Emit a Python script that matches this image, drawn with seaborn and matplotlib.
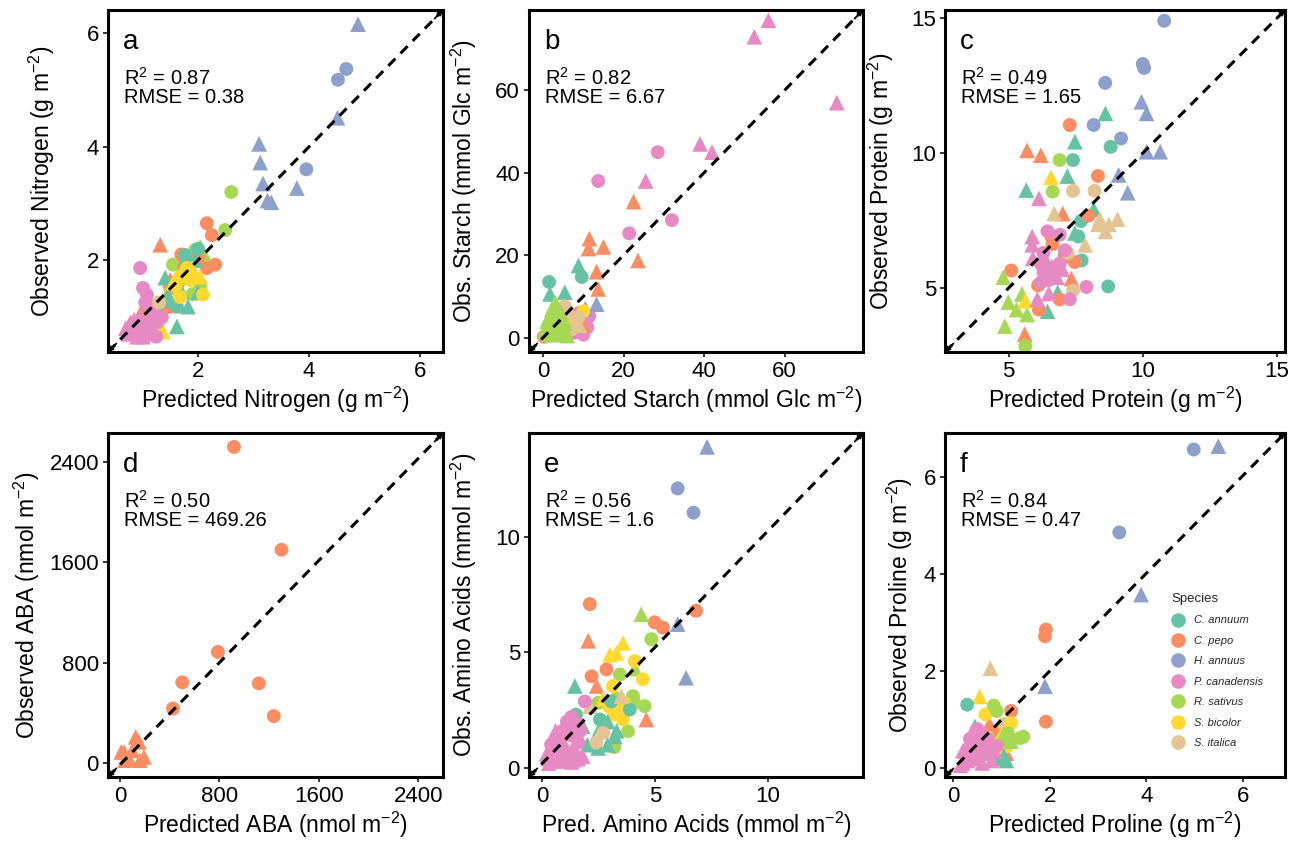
import matplotlib
matplotlib.use("Agg")
import matplotlib.pyplot as plt
from matplotlib.lines import Line2D
import seaborn as sns
import pandas as pd

# ---------------------------------------------------------------- species
species_order = ["C. annuum", "C. pepo", "H. annuus", "P. canadensis",
                 "R. sativus", "S. bicolor", "S. italica"]
species_code = {"A": "C. annuum", "P": "C. pepo", "H": "H. annuus",
                "C": "P. canadensis", "R": "R. sativus", "B": "S. bicolor",
                "I": "S. italica"}
palette = {"C. annuum": "#66C2A5", "C. pepo": "#FC8D62", "H. annuus": "#8DA0CB",
           "P. canadensis": "#E78AC3", "R. sativus": "#A6D854",
           "S. bicolor": "#FFD92F", "S. italica": "#E5C494"}

# ---------------------------------------------------------------- (a) nitrogen
a_pred = [4.88, 4.67, 4.52, 4.51, 3.10, 3.12, 3.17, 3.25, 3.32, 3.78, 3.95,
          2.60, 2.49, 1.55, 1.95, 2.04, 2.04, 2.10, 1.65, 1.90, 1.50, 1.70,
          2.16, 2.25, 2.31, 2.16, 1.32, 1.70, 1.75, 1.85, 1.50, 1.45, 1.20, 1.00, 1.30, 0.80, 2.00, 1.60, 1.15, 1.40,
          1.41, 1.59, 1.80, 1.95, 1.62, 1.82, 2.00, 1.62, 1.77, 1.70, 1.50, 2.00, 1.45, 1.25,
          1.68, 1.68, 2.09, 1.86, 1.80, 1.89, 2.04, 1.37, 1.60, 1.30, 1.55,
          0.96, 1.01, 1.08, 0.78, 1.08, 1.14, 1.35, 0.90, 1.01, 1.19, 1.26, 0.83, 1.01, 0.95, 1.10, 0.70, 1.20, 0.88,
          0.85, 1.15, 1.25, 0.95, 1.05, 0.75,
          1.30]
a_obs = [6.16, 5.37, 5.18, 4.51, 4.05, 3.72, 3.35, 3.05, 3.02, 3.27, 3.60,
         3.20, 2.53, 1.92, 2.18, 1.53, 2.23, 2.00, 1.60, 1.40, 1.50, 1.90,
         2.65, 2.44, 1.92, 1.86, 2.27, 2.10, 2.00, 1.90, 1.65, 1.40, 1.20, 1.13, 0.95, 0.72, 2.05, 1.20, 1.05, 1.15,
         1.69, 1.60, 2.06, 2.00, 0.83, 1.18, 1.43, 1.18, 2.09, 1.45, 1.30, 2.20, 1.35, 1.25,
         1.71, 1.35, 1.39, 1.65, 1.86, 1.86, 1.71, 0.74, 1.55, 0.80, 1.60,
         1.86, 1.51, 1.39, 0.90, 0.95, 1.18, 0.99, 0.65, 0.74, 0.78, 0.90, 0.81, 0.65, 1.00, 0.85, 0.80, 1.05, 0.72,
         0.95, 0.70, 0.65, 0.85, 1.25, 0.70,
         1.25]
a_species = "H" * 11 + "R" * 11 + "P" * 18 + "A" * 14 + "B" * 11 + "C" * 24 + "I" * 1
a_marker = ("^oo^^^^^^^o" "ooooo^ooooo" "oooo^o^^^^^^ooo^^o" "^^^^^^^oo^^o^^"
            "ooooo^^^o^^" "ooo^^oo^o^o^^^o^o^" "^^ooo^" "o")

# ---------------------------------------------------------------- (b) starch
b_pred = [56.0, 52.5, 73.0, 39.0, 42.0, 28.5, 25.5, 13.7, 32.0, 21.4, 11.5, 4.7, 5.4, 7.9, 10.0, 6.0, 3.5, 8.0, 9.0,
          6.5, 9.5, 7.5, 11.0,
          22.5, 11.5, 15.0, 11.3, 23.6, 13.3, 13.7, 0.2, 10.0,
          8.8, 9.6, 1.5, 1.7, 5.4, 2.0, 3.0, 4.0, 5.5,
          13.3, 10.5,
          10.0, 7.0,
          5.4, 8.8, 7.1, 4.5, 9.0, 6.2, 6.5,
          2.2, 3.4, 1.5, 5.2, 2.7, 1.0, 3.0, 4.0, 6.0, 0.5, 2.0, 4.5,
          1.5, 2.5, 0.8, 3.5, 5.5, 1.2, 4.2]
b_obs = [77.0, 73.0, 57.0, 47.0, 45.0, 45.0, 38.0, 38.0, 28.5, 25.3, 5.2, 5.2, 2.7, 1.2, 0.7, 4.0, 3.5, 2.5, 6.0,
         1.5, 1.5, 3.5, 2.5,
         33.0, 24.0, 22.0, 21.6, 18.7, 16.0, 11.8, 0.2, 3.0,
         17.5, 14.7, 13.5, 10.6, 11.0, 4.0, 1.0, 1.0, 0.5,
         8.1, 7.0,
         6.4, 4.0,
         7.6, 4.9, 2.0, 1.5, 3.0, 5.8, 2.8,
         6.9, 5.2, 2.7, 2.0, 0.7, 4.0, 8.5, 3.0, 0.5, 1.5, 0.5, 4.5,
         5.0, 3.5, 2.5, 1.5, 3.5, 0.8, 6.2]
b_species = "C" * 23 + "P" * 9 + "A" * 9 + "H" * 2 + "B" * 2 + "I" * 7 + "R" * 19
b_marker = ("^^^^^o^ooooooooo^oo" "oooo" "^^^^^^^o^" "^oo^^oooo" "^^" "oo" "oooo^o^"
            "^^^^^^^o^^o^" "^^^^^^^")

# ---------------------------------------------------------------- (c) protein
c_pred = [9.95, 10.14, 9.19, 8.17, 10.14, 10.65, 9.10, 9.44, 10.80, 10.00, 10.05, 8.60,
          8.61, 7.47, 8.80, 7.40, 7.19, 5.66, 8.17, 7.70, 7.47, 7.60, 7.09, 7.72, 8.71, 6.83, 6.45,
          7.28, 5.69, 6.20, 8.33, 7.02, 7.98, 6.64, 7.47, 5.10, 7.34, 6.90, 6.13, 5.60, 6.60, 6.10, 7.00,
          6.90, 6.64, 4.80, 5.50, 4.99, 5.69, 4.86, 5.62, 5.30,
          6.58, 5.62,
          7.40, 8.20, 6.70, 8.33, 8.74, 9.06, 8.61, 7.85, 7.40, 7.20, 8.40,
          6.13, 6.45, 6.90, 5.88, 5.88, 7.90, 7.28, 6.07, 6.30, 6.60, 6.80, 6.20, 6.50, 6.40, 7.00,
          6.20, 6.60, 6.90, 6.30, 5.90, 7.10, 6.50]
c_obs = [11.90, 11.47, 10.54, 11.04, 10.05, 10.05, 9.19, 8.53, 14.90, 13.30, 13.15, 12.60,
         11.47, 10.42, 10.23, 9.74, 9.15, 8.63, 7.92, 7.48, 7.04, 6.91, 6.20, 6.02, 5.06, 4.84, 4.14,
         11.04, 10.10, 9.92, 9.15, 7.76, 7.68, 6.63, 5.96, 5.65, 5.35, 4.58, 4.20, 3.29, 6.90, 5.10, 6.20,
         9.74, 8.57, 5.40, 4.78, 4.48, 4.02, 3.59, 2.85, 4.20,
         9.10, 4.53,
         8.60, 8.60, 7.76, 7.36, 7.36, 7.55, 7.10, 6.60, 4.90, 6.30, 7.55,
         8.32, 7.10, 6.97, 6.91, 6.60, 5.04, 4.58, 4.59, 5.60, 5.80, 5.40, 5.90, 5.30, 6.00, 5.70,
         5.20, 5.50, 5.90, 6.30, 6.10, 6.40, 4.80]
c_species = "H" * 12 + "A" * 15 + "P" * 16 + "R" * 9 + "B" * 2 + "I" * 11 + "C" * 22
c_marker = ("^^oo^^^^oooo" "^^oo^^^o^oooo^^" "o^^o^oooo^oo^oo^" "oo^^^^^o^" "^^"
            "oo^^^^^^oo^" "^oo^^oo^o^^oo^^" "o^oo^o^")

# ---------------------------------------------------------------- (d) ABA
d_pred = [917, 1300, 788, 501, 1118, 426, 1238, 32, 126, 153, 193, 72, 10, 99, 161, 40]
d_obs = [2519, 1700, 886, 644, 636, 436, 375, 90, 210, 170, 50, 37, 90, 104, 24, 24]
d_species = "P" * 16
d_marker = "ooooooo" "^^^^^^^^^"

# ---------------------------------------------------------------- (e) amino acids
e_pred = [6.00, 6.70, 7.30, 6.00, 6.37,
          2.11, 4.98, 5.35, 6.81, 2.04, 2.85, 2.19, 2.41, 4.61, 1.20,
          4.39, 4.83, 3.44, 4.54, 4.02, 2.48, 3.80, 4.10, 4.20, 3.30, 3.20,
          3.00, 3.58, 3.29, 4.10, 4.46, 3.14, 3.36, 3.58, 2.70, 3.20, 3.00, 3.60,
          1.45, 3.07, 3.88, 2.56, 3.22, 2.48, 1.80, 2.30, 1.50, 2.90, 3.30, 2.00, 2.60, 1.30, 2.90,
          3.51, 2.11, 2.70, 1.50, 2.40,
          1.89, 0.30, 0.50, 0.80, 1.00, 1.20, 0.60, 1.50, 1.30, 0.90, 1.60, 1.10, 0.70, 1.40, 1.80, 0.40,
          1.00, 1.70, 1.30,
          0.50, 0.90, 1.30, 0.20, 1.60, 0.60, 1.10, 0.80, 1.40, 0.30, 1.20, 1.60]
e_obs = [12.10, 11.05, 13.90, 6.22, 3.90,
         7.09, 6.30, 6.07, 6.80, 5.50, 4.26, 3.96, 3.54, 2.09, 1.50,
         6.65, 5.57, 4.04, 2.67, 3.10, 2.81, 1.58, 4.30, 2.90, 3.00, 0.90,
         4.90, 5.41, 4.98, 4.62, 3.83, 3.54, 2.44, 2.09, 3.00, 2.30, 2.60, 2.80,
         3.54, 2.88, 2.52, 2.09, 1.36, 0.86, 1.80, 1.20, 2.30, 2.00, 1.60, 1.00, 1.80, 2.00, 1.00,
         3.10, 2.67, 1.51, 1.50, 1.10,
         2.87, 0.40, 0.80, 0.50, 1.00, 0.60, 1.20, 0.70, 1.40, 1.60, 1.10, 2.00, 0.30, 0.35, 0.50, 1.00,
         0.30, 1.60, 2.20,
         0.30, 0.80, 0.25, 0.60, 0.40, 1.60, 0.50, 1.20, 0.90, 0.20, 1.80, 1.90]
e_species = "H" * 5 + "P" * 10 + "R" * 11 + "B" * 12 + "A" * 15 + "I" * 5 + "C" * 31
e_marker = ("oo^^^" "oooo^oo^^^" "^oooooo^^oo" "^^^ooooo^ooo" "^ooo^^^^o^^^^^^" "^^ooo"
            "o^^^^^^^oooo^^^o^oo" "^^^^^^^^^^oo")

# ---------------------------------------------------------------- (f) proline
f_pred = [5.49, 4.98, 3.44, 3.89, 1.90,
          1.92, 1.90, 1.92, 1.20, 0.90, 0.60, 1.10, 0.75,
          0.77, 1.05,
          0.55, 0.67, 1.20, 1.11, 1.00, 1.05, 0.95,
          0.29, 0.90, 0.40, 1.10, 1.05, 0.45,
          0.84, 0.90, 1.45, 1.38, 1.13, 1.20, 0.80, 1.00,
          0.20, 0.35, 0.50, 0.30, 0.60, 0.45, 0.70, 0.80, 0.25, 0.55, 0.40, 0.65, 0.90, 0.15,
          0.30, 0.55, 0.75, 0.40, 0.85, 0.20, 0.60, 0.50, 0.35, 0.70]
f_obs = [6.63, 6.56, 4.85, 3.57, 1.68,
         2.85, 2.71, 0.95, 1.17, 0.75, 0.50, 0.30, 0.90,
         2.05, 0.90,
         1.47, 1.10, 0.92, 0.44, 0.70, 0.55, 0.35,
         1.30, 0.20, 0.60, 0.15, 0.25, 0.85,
         1.28, 1.17, 0.64, 0.61, 0.71, 0.55, 0.60, 0.60,
         0.10, 0.30, 0.20, 0.50, 0.40, 0.65, 0.30, 0.15, 0.25, 0.55, 0.40, 0.70, 0.45, 0.05,
         0.15, 0.35, 0.50, 0.75, 0.35, 0.35, 0.10, 0.80, 0.60, 0.60]
f_species = "H" * 5 + "P" * 8 + "I" * 2 + "B" * 7 + "A" * 6 + "R" * 8 + "C" * 24
f_marker = ("^oo^^" "oooo^^^^" "^o" "^ooo^oo" "o^^^^^" "ooooo^^^"
            "^^^^^^^^oo^^o^" "^^^^^^^ooo")

# ---------------------------------------------------------------- fit statistics
fit_r2 = ["0.87", "0.82", "0.49", "0.50", "0.56", "0.84"]
fit_rmse = ["0.38", "6.67", "1.65", "469.26", "1.6", "0.47"]

# ---------------------------------------------------------------- style
sns.set_theme(style="white")
plt.rcParams["font.family"] = ["Liberation Sans", "DejaVu Sans"]
plt.rcParams["mathtext.fontset"] = "custom"
plt.rcParams["mathtext.rm"] = "Liberation Sans"
plt.rcParams["mathtext.it"] = "Liberation Sans:italic"
plt.rcParams["mathtext.default"] = "regular"

W, H = 1293, 841
fig = plt.figure(figsize=(W / 100, H / 100), dpi=100)
fig.patch.set_facecolor("white")


def frame(left, top, right, bottom):
    return [left / W, 1 - bottom / H, (right - left) / W, (bottom - top) / H]


panels = [
    dict(letter="a", pred=a_pred, obs=a_obs, sp=a_species, mk=a_marker,
         xlim=(0.38, 6.41), ylim=(0.38, 6.41), ticks=[2, 4, 6],
         xlabel="Predicted Nitrogen (g m$^{-2}$)", ylabel="Observed Nitrogen (g m$^{-2}$)",
         box=(108, 10, 443, 352), ylab_x=57),
    dict(letter="b", pred=b_pred, obs=b_obs, sp=b_species, mk=b_marker,
         xlim=(-3.5, 79.5), ylim=(-3.5, 79.5), ticks=[0, 20, 40, 60],
         xlabel="Predicted Starch (mmol Glc m$^{-2}$)", ylabel="Obs. Starch (mmol Glc m$^{-2}$)",
         box=(529, 10, 863, 352), ylab_x=479),
    dict(letter="c", pred=c_pred, obs=c_obs, sp=c_species, mk=c_marker,
         xlim=(2.63, 15.3), ylim=(2.63, 15.3), ticks=[5, 10, 15],
         xlabel="Predicted Protein (g m$^{-2}$)", ylabel="Observed Protein (g m$^{-2}$)",
         box=(945, 10, 1285, 352), ylab_x=896),
    dict(letter="d", pred=d_pred, obs=d_obs, sp=d_species, mk=d_marker,
         xlim=(-97, 2600), ylim=(-110, 2630), ticks=[0, 800, 1600, 2400],
         xlabel="Predicted ABA (nmol m$^{-2}$)", ylabel="Observed ABA (nmol m$^{-2}$)",
         box=(108, 433, 443, 777), ylab_x=42),
    dict(letter="e", pred=e_pred, obs=e_obs, sp=e_species, mk=e_marker,
         xlim=(-0.58, 14.2), ylim=(-0.4, 14.5), ticks=[0, 5, 10],
         xlabel="Pred. Amino Acids (mmol m$^{-2}$)", ylabel="Obs. Amino Acids (mmol m$^{-2}$)",
         box=(529, 433, 863, 777), ylab_x=479),
    dict(letter="f", pred=f_pred, obs=f_obs, sp=f_species, mk=f_marker,
         xlim=(-0.17, 6.87), ylim=(-0.19, 6.9), ticks=[0, 2, 4, 6],
         xlabel="Predicted Proline (g m$^{-2}$)", ylabel="Observed Proline (g m$^{-2}$)",
         box=(945, 433, 1285, 777), ylab_x=915),
]

for i, p in enumerate(panels):
    ax = fig.add_axes(frame(*p["box"]))
    df = pd.DataFrame({
        "pred": p["pred"],
        "obs": p["obs"],
        "species": [species_code[c] for c in p["sp"]],
        "shape": list(p["mk"]),
    })
    sns.scatterplot(data=df, x="pred", y="obs", hue="species", style="shape",
                    size="shape", markers={"o": "o", "^": "^"},
                    sizes={"o": 100, "^": 128}, palette=palette,
                    hue_order=species_order, linewidth=0, legend=False,
                    ax=ax, zorder=2)

    # 1:1 reference line across the panel
    ax.plot([0, 1], [0, 1], transform=ax.transAxes, color="black",
            lw=2.2, ls=(0, (3.3, 2.4)), zorder=3, clip_on=False)
    for tip, tail in (((1, 1), (0.975, 0.975)), ((0, 0), (0.025, 0.025))):
        ax.annotate("", xy=tip, xytext=tail, xycoords="axes fraction",
                    arrowprops=dict(arrowstyle="->", lw=1.3, color="black",
                                    shrinkA=0, shrinkB=0, mutation_scale=7),
                    annotation_clip=False, zorder=4)

    ax.set_xlim(*p["xlim"])
    ax.set_ylim(*p["ylim"])
    ax.set_xticks(p["ticks"])
    ax.set_yticks(p["ticks"])
    ax.tick_params(axis="both", which="major", direction="out", length=3.5,
                   width=1.1, color="black", labelsize=16, labelcolor="black",
                   pad=3, bottom=True, left=True)
    for s in ax.spines.values():
        s.set_linewidth(2.2)
        s.set_color("black")
    ax.set_xlabel(p["xlabel"], fontsize=16.5, labelpad=2, color="black")
    ax.set_ylabel(p["ylabel"], fontsize=16.5, color="black")
    left, top, right, bottom = p["box"]
    ax.yaxis.set_label_coords((p["ylab_x"] - left) / (right - left), 0.5)

    ax.annotate(p["letter"], xy=(0, 1), xycoords="axes fraction",
                xytext=(15, -39), textcoords="offset pixels",
                fontsize=20, va="baseline", ha="left", color="black")
    ax.annotate("R$^2$ = " + fit_r2[i], xy=(0, 1), xycoords="axes fraction",
                xytext=(16, -75), textcoords="offset pixels",
                fontsize=14.5, va="baseline", ha="left", color="black")
    ax.annotate("RMSE = " + fit_rmse[i], xy=(0, 1), xycoords="axes fraction",
                xytext=(16, -93), textcoords="offset pixels",
                fontsize=14.5, va="baseline", ha="left", color="black")

# species legend inside the last panel
handles = [Line2D([], [], marker="o", ls="none", markersize=10.5,
                  markerfacecolor=palette[s], markeredgewidth=0, label=s)
           for s in species_order]
leg = fig.legend(handles=handles, title="Species", loc="upper left",
                 bbox_to_anchor=(1171 / W, 1 - 593 / H), frameon=False,
                 prop={"size": 8, "style": "italic"}, title_fontsize=9.5,
                 handlelength=1.2, handletextpad=0.9, labelspacing=0.94,
                 borderpad=0, borderaxespad=0)
leg._legend_box.align = "left"

fig.savefig("out.png", dpi=100, facecolor="white")
